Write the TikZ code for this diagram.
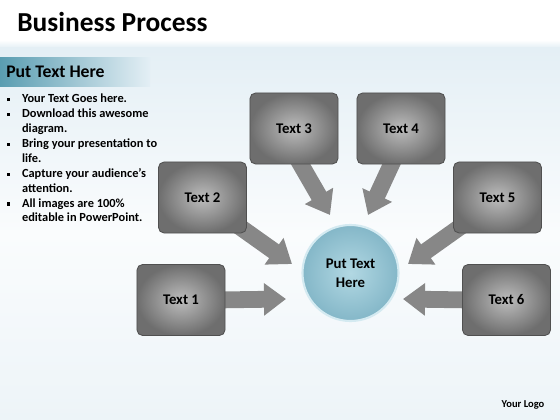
\documentclass[tikz,border=0pt]{standalone}
\usepackage{fontspec}
\setmainfont{Carlito}
\usepackage{xcolor}
\usepackage{tikz}
\usetikzlibrary{calc}
\usetikzlibrary{arrows.meta}

\definecolor{boxin}{HTML}{BDBDBD}
\definecolor{boxout}{HTML}{6E6E6E}
\definecolor{boxline}{HTML}{505050}
\definecolor{arrowgray}{HTML}{878787}
\definecolor{hubin}{HTML}{B2D8E3}
\definecolor{hubout}{HTML}{84B7C8}
\definecolor{hubline}{HTML}{D4EAF1}
\definecolor{bandteal}{HTML}{5A9DB1}
\definecolor{bgtop}{HTML}{E4EFF5}
\definecolor{bgmid}{HTML}{FAFCFD}
\definecolor{bgbot}{HTML}{EDF4F8}

\newcommand{\bulletmark}{\raisebox{0.25ex}{\rule{2.2pt}{2.2pt}}}

\pgfdeclarelayer{bg}
\pgfdeclarelayer{arrowlayer}
\pgfsetlayers{bg,arrowlayer,main}

\tikzset{
  procbox/.style={draw=boxline, line width=0.6pt, rounded corners=4pt,
    inner color=boxin, outer color=boxout,
    minimum width=2.2cm, minimum height=1.775cm,
    font=\bfseries\fontsize{10.5}{12}\selectfont},
  hubnode/.style={circle, draw=hubline, line width=1.5pt,
    inner color=hubin, outer color=hubout, minimum size=2.4cm,
    align=center, font=\bfseries\fontsize{10.5}{13.7}\selectfont},
  bigarrow/.style={draw=arrowgray, line width=0.42cm,
    -{Triangle[length=0.55cm, width=0.78cm]}},
}

\begin{document}
\begin{tikzpicture}[x=0.025cm, y=-0.025cm]
    \useasboundingbox (0,0) rectangle (560,420);

    % Background of the slide
    \begin{pgfonlayer}{bg}
    \fill[white] (0,0) rectangle (560,44);
    \shade[top color=white, bottom color=bgtop] (0,40) rectangle (560,48);
    \shade[top color=bgtop, bottom color=bgbot, middle color=bgmid] (0,48) rectangle (560,420);
    \shade[left color=bandteal, right color=bgtop] (0,58) rectangle (150,87);
    \end{pgfonlayer}

    % Title and side panel
    \node (title) [anchor=west, inner sep=0pt, font=\bfseries\fontsize{19.5}{23}\selectfont] at (17,22) {Business Process};
    \node (panel) [anchor=west, inner sep=0pt, font=\bfseries\fontsize{12.6}{15}\selectfont] at (6,72) {Put Text Here};
    \node (bullets) [anchor=north west, inner sep=0pt, font=\bfseries\fontsize{8.8}{10.6}\selectfont] at (7,92) {%
      \begin{tabular}{@{}p{0.37cm}@{}l@{}}
        \bulletmark & Your Text Goes here.\\
        \bulletmark & Download this awesome\\
                    & diagram.\\
        \bulletmark & Bring your presentation to\\
                    & life.\\
        \bulletmark & Capture your audience’s\\
                    & attention.\\
        \bulletmark & All images are 100\%\\
                    & editable in PowerPoint.
      \end{tabular}};

    % Centre circle
    \node (hub) [hubnode] at (350.5,273) {Put Text\\Here};

    % Boxes round the centre
    \node (t1) [procbox] at (181,300) {Text 1};
    \node (t2) [procbox] at (202.5,197.5) {Text 2};
    \node (t3) [procbox] at (294,128.5) {Text 3};
    \node (t4) [procbox] at (401,128.5) {Text 4};
    \node (t5) [procbox] at (497.5,197.5) {Text 5};
    \node (t6) [procbox] at (506.5,300) {Text 6};

    % Arrow tips in front of the circle
    \coordinate (tip1) at (286,299);
    \coordinate (tip2) at (292,264);
    \coordinate (tip3) at (330,215);
    \coordinate (tip4) at (368,215);
    \coordinate (tip5) at (408,264);
    \coordinate (tip6) at (403,299);

    % Arrows (behind the boxes)
    \begin{pgfonlayer}{arrowlayer}
    \draw[bigarrow] ($(t1.east)+(-10,0)$) -- (tip1);
    \draw[bigarrow] ($(t2.south east)+(-12,-10)$) -- (tip2);
    \draw[bigarrow] ($(t3.south)+(1,-10)$) -- (tip3);
    \draw[bigarrow] ($(t4.south)+(-5,-10)$) -- (tip4);
    \draw[bigarrow] ($(t5.south west)+(12,-10)$) -- (tip5);
    \draw[bigarrow] ($(t6.west)+(10,0)$) -- (tip6);
    \end{pgfonlayer}

    % Logo text
    \node (logo) [inner sep=0pt, font=\bfseries\fontsize{7.5}{9}\selectfont] at (523,405) {Your Logo};
\end{tikzpicture}
\end{document}
